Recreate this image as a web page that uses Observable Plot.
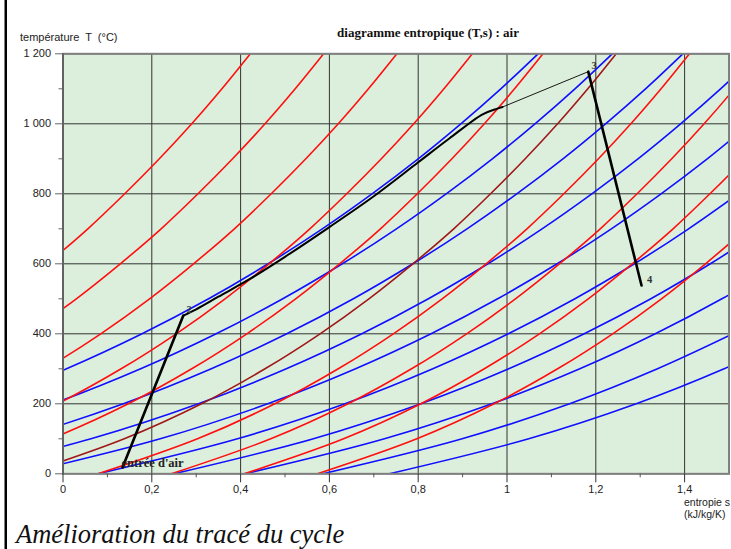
<!DOCTYPE html>
<html>
<head>
<meta charset="utf-8">
<script src="https://cdn.jsdelivr.net/npm/d3@7"></script>
<script src="https://cdn.jsdelivr.net/npm/@observablehq/plot@0.6"></script>
<style>
  html, body { margin: 0; padding: 0; background: #fff; }
  #chart { width: 731px; height: 549px; overflow: hidden; }
</style>
</head>
<body>
<div id="chart"></div>
<script>
// ---- data ----
// temperature levels (°C) at which each curve's entropy was read
const tLevels = [0, 100, 200, 300, 400, 500, 600, 700, 800, 900, 1000, 1100, 1200];

// isochores (red), entropy s (kJ/kg/K) at each temperature level
const isochores = [
  [null, null, null, null, null, -0.135, -0.036, 0.056, 0.139, 0.217, 0.290, 0.358, 0.422],
  [null, null, null, null, -0.080, 0.030, 0.129, 0.221, 0.304, 0.382, 0.455, 0.523, 0.587],
  [null, null, -0.182, -0.039, 0.085, 0.195, 0.294, 0.386, 0.469, 0.547, 0.620, 0.688, 0.752],
  [null, -0.186, -0.012, 0.131, 0.255, 0.365, 0.464, 0.556, 0.639, 0.717, 0.790, 0.858, 0.922],
  [-0.251, -0.027, 0.147, 0.290, 0.414, 0.524, 0.623, 0.715, 0.798, 0.876, 0.949, 1.017, 1.081],
  [-0.086, 0.138, 0.312, 0.455, 0.579, 0.689, 0.788, 0.880, 0.963, 1.041, 1.114, 1.182, 1.246],
  [0.079, 0.303, 0.477, 0.620, 0.744, 0.854, 0.953, 1.045, 1.128, 1.206, 1.279, 1.347, 1.411],
  [0.244, 0.468, 0.642, 0.785, 0.909, 1.019, 1.118, 1.210, 1.293, 1.371, 1.444, 1.512, 1.576],
  [0.408, 0.632, 0.806, 0.949, 1.073, 1.183, 1.282, 1.374, 1.457, 1.535, 1.608, null, null],
  [0.573, 0.797, 0.971, 1.114, 1.238, 1.348, 1.447, 1.539, null, null, null, null, null]
];
// which isochores are drawn in dark red
const darkIsochores = [5];

// isobars (blue), entropy s (kJ/kg/K) at each temperature level
const isobars = [
  [null, null, -0.190, 0.008, 0.178, 0.328, 0.462, 0.584, 0.696, 0.800, 0.896, 0.986, 1.070],
  [null, -0.265, -0.023, 0.175, 0.345, 0.495, 0.629, 0.751, 0.863, 0.967, 1.063, 1.153, 1.237],
  [-0.420, -0.106, 0.136, 0.334, 0.504, 0.654, 0.788, 0.910, 1.022, 1.126, 1.222, 1.312, 1.396],
  [-0.251, 0.063, 0.305, 0.503, 0.673, 0.823, 0.957, 1.079, 1.191, 1.295, 1.391, 1.481, 1.565],
  [-0.095, 0.219, 0.461, 0.659, 0.829, 0.979, 1.113, 1.235, 1.347, 1.451, 1.547, null, null],
  [0.079, 0.393, 0.635, 0.833, 1.003, 1.153, 1.287, 1.409, 1.521, null, null, null, null],
  [0.250, 0.564, 0.806, 1.004, 1.174, 1.324, 1.458, 1.580, null, null, null, null, null],
  [0.410, 0.724, 0.966, 1.164, 1.334, 1.484, 1.618, null, null, null, null, null, null],
  [0.585, 0.899, 1.141, 1.339, 1.509, null, null, null, null, null, null, null, null],
  [0.735, 1.049, 1.291, 1.489, 1.659, null, null, null, null, null, null, null, null]
];

// cycle: compression 1 -> 2
const compS = [0.134, 0.271];
const compT = [18, 452];
// heating along the isobar from 2
const heatS = [0.271, 0.300, 0.350, 0.420, 0.500, 0.600, 0.700, 0.800, 0.870, 0.945, 0.975, 0.990];
const heatT = [452, 470, 506, 556, 620, 705, 793, 890, 958, 1027, 1042, 1048];
// thin end of heating up to 3
const heatEndS = [0.990, 1.183];
const heatEndT = [1048, 1149];
// expansion 3 -> 4
const expS = [1.183, 1.303];
const expT = [1149, 538];

// point labels
const pointLabels = ["entrée d'air", "2", "3", "4"];
const pointLabelS = [0.134, 0.276, 1.188, 1.313];
const pointLabelT = [18, 452, 1149, 538];

// axes
const xMajor = [0, 0.2, 0.4, 0.6, 0.8, 1, 1.2, 1.4];
const xMinor = [0.1, 0.3, 0.5, 0.7, 0.9, 1.1, 1.3];
const yMajor = [0, 200, 400, 600, 800, 1000, 1200];
const yMinor = [100, 300, 500, 700, 900, 1100];

const yLabel = "température  T  (°C)";
const xLabel1 = "entropie s";
const xLabel2 = "(kJ/kg/K)";
const title = "diagramme entropique (T,s) : air";
const caption = "Amélioration du tracé du cycle";

// ---- build ----
const fr = d3.formatLocale({decimal: ",", thousands: " ", grouping: [3], currency: ["", " €"]});
const fmtY = fr.format(",");
const fmtX = fr.format("~g");

const toPts = (arr, id) => arr.map((s, i) => ({s, T: tLevels[i], id})).filter(d => d.s !== null);
const redPts = isochores.flatMap((a, i) => darkIsochores.includes(i) ? [] : toPts(a, i));
const darkPts = isochores.flatMap((a, i) => darkIsochores.includes(i) ? toPts(a, i) : []);
const bluePts = isobars.flatMap((a, i) => toPts(a, i));
const zipPts = (S, T) => S.map((s, i) => ({s, T: T[i]}));
const labelPts = pointLabels.map((t, i) => ({t, s: pointLabelS[i], T: pointLabelT[i]}));

const bg = "#dcefdc";
const gridColor = "#333";
const sans = "'Liberation Sans', Arial, sans-serif";
const serif = "'Liberation Serif', 'Times New Roman', serif";

const svg = Plot.plot({
  width: 731,
  height: 549,
  marginLeft: 62.5,
  marginRight: 2.5,
  marginTop: 53.3,
  marginBottom: 75.7,
  x: {domain: [0, 1.5]},
  y: {domain: [0, 1200]},
  style: {fontFamily: sans, fontSize: "11px", background: "#fff", color: "#222"},
  marks: [
    Plot.frame({fill: bg, stroke: null}),
    Plot.gridX(xMajor, {stroke: gridColor, strokeOpacity: 1, strokeWidth: 1}),
    Plot.gridY(yMajor, {stroke: gridColor, strokeOpacity: 1, strokeWidth: 1}),
    Plot.line(bluePts, {x: "s", y: "T", z: "id", stroke: "#1010ff", strokeWidth: 1.6, curve: "catmull-rom", clip: true}),
    Plot.line(redPts, {x: "s", y: "T", z: "id", stroke: "#ff1010", strokeWidth: 1.6, curve: "catmull-rom", clip: true}),
    Plot.line(darkPts, {x: "s", y: "T", z: "id", stroke: "#a01818", strokeWidth: 1.6, curve: "catmull-rom", clip: true}),
    Plot.line(zipPts(heatS, heatT), {x: "s", y: "T", stroke: "#000", strokeWidth: 2, curve: "catmull-rom"}),
    Plot.line(zipPts(heatEndS, heatEndT), {x: "s", y: "T", stroke: "#000", strokeWidth: 0.9}),
    Plot.line(zipPts(compS, compT), {x: "s", y: "T", stroke: "#000", strokeWidth: 2.6}),
    Plot.line(zipPts(expS, expT), {x: "s", y: "T", stroke: "#000", strokeWidth: 2.6}),
    Plot.frame({stroke: "#808080", strokeWidth: 2}),
    Plot.ruleX([0], {stroke: "#444", strokeWidth: 1}),
    Plot.axisY({ticks: yMajor, tickSize: 7.5, tickPadding: 4.5, tickFormat: fmtY, label: null, stroke: "#666"}),
    Plot.axisY({ticks: yMinor, tickSize: 4, tickFormat: () => "", label: null, stroke: "#666"}),
    Plot.axisX({ticks: xMajor, tickSize: 9, tickPadding: 2, tickFormat: fmtX, label: null, stroke: gridColor}),
    Plot.axisX({ticks: xMinor, tickSize: 4, tickFormat: () => "", label: null, stroke: "#555"}),
    Plot.text(labelPts.slice(0, 1), {x: "s", y: "T", text: "t", textAnchor: "start", dx: -1, dy: -5,
      fontFamily: serif, fontWeight: "bold", fontSize: 12.5, fill: "#222"}),
    Plot.text(labelPts.slice(1), {x: "s", y: "T", text: "t", textAnchor: "start", dx: 1, dy: -6,
      fontFamily: serif, fontWeight: "bold", fontSize: 10.5, fill: "#333"})
  ]
});

const s = d3.select(svg);
const addText = (txt, x, y, size, family, extra = {}) => {
  const t = s.append("text").attr("x", x).attr("y", y).attr("font-size", size)
    .attr("font-family", family).attr("fill", extra.fill || "#222")
    .attr("text-anchor", extra.anchor || "start")
    .attr("xml:space", "preserve").style("white-space", "pre");
  if (extra.weight) t.attr("font-weight", extra.weight);
  if (extra.style) t.attr("font-style", extra.style);
  t.text(txt);
  return t;
};
s.append("rect").attr("x", 4.5).attr("y", 0).attr("width", 2.5).attr("height", 549).attr("fill", "#000");
addText(yLabel, 20, 41, 11, sans);
addText(title, 428, 37, 13, serif, {anchor: "middle", weight: "bold", fill: "#111"});
addText(xLabel1, 684, 506, 10.5, sans);
addText(xLabel2, 684, 518, 10.5, sans);
addText(caption, 16, 543, 26.5, serif, {style: "italic", fill: "#111"});

document.getElementById("chart").appendChild(svg);
</script>
</body>
</html>
